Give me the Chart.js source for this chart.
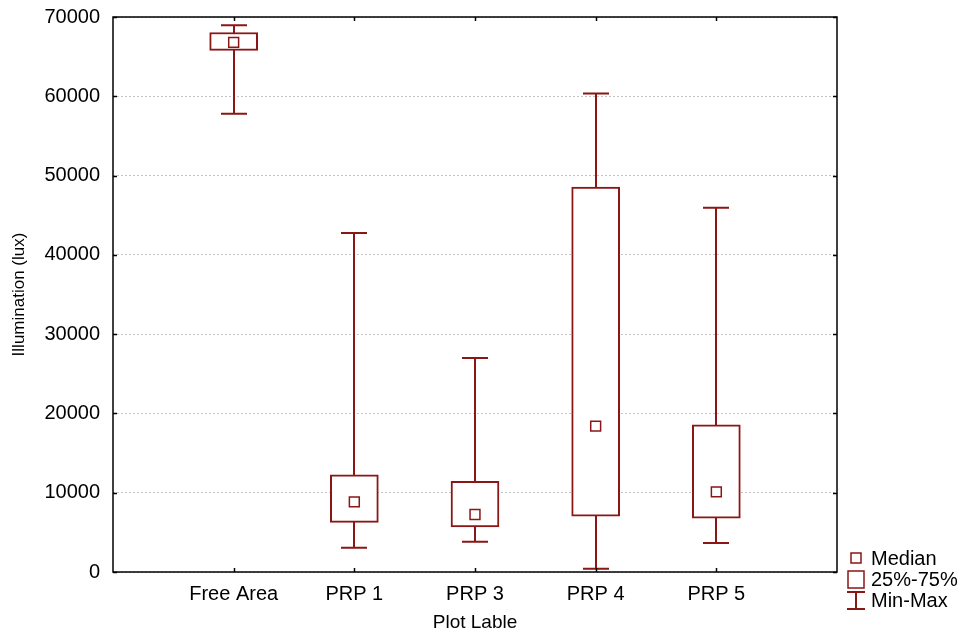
<!DOCTYPE html>
<html>
<head>
<meta charset="utf-8">
<script src="https://cdn.jsdelivr.net/npm/chart.js@4.4.1/dist/chart.umd.min.js"></script>
<style>
  html, body { margin: 0; padding: 0; background: #fff; }
</style>
</head>
<body>
<canvas id="chart" width="963" height="632"></canvas>
<script>
// box plot values
const categories = ['Free Area', 'PRP 1', 'PRP 3', 'PRP 4', 'PRP 5'];
const minVals    = [57800, 3050, 3800, 400, 3650];
const q1Vals     = [65800, 6250, 5700, 7050, 6800];
const medianVals = [66800, 8850, 7250, 18400, 10100];
const q3Vals     = [68050, 12250, 11450, 48550, 18550];
const maxVals    = [68950, 42750, 27000, 60350, 45950];
const yTicks     = [0, 10000, 20000, 30000, 40000, 50000, 60000, 70000];

const RED = '#8b1616';
const FONT = 'Liberation Sans, Arial, sans-serif';

// positions 1..5 on a 0..6 linear axis
const xPos = categories.map((c, i) => i + 1);

// whiskers (min-max) drawn under the boxes
const whiskerPlugin = {
    id: 'whiskers',
    beforeDatasetsDraw(chart) {
        const ctx = chart.ctx;
        const xs = chart.scales.x, ys = chart.scales.y;
        ctx.save();
        ctx.strokeStyle = RED;
        ctx.lineWidth = 2;
        xPos.forEach((p, i) => {
            const x = Math.round(xs.getPixelForValue(p));
            const yMin = ys.getPixelForValue(minVals[i]);
            const yMax = ys.getPixelForValue(maxVals[i]);
            ctx.beginPath();
            ctx.moveTo(x, yMin); ctx.lineTo(x, yMax);
            ctx.moveTo(x - 13, yMin); ctx.lineTo(x + 13, yMin);
            ctx.moveTo(x - 13, yMax); ctx.lineTo(x + 13, yMax);
            ctx.stroke();
        });
        ctx.restore();
    }
};

// frame, inner ticks, legend
const framePlugin = {
    id: 'frame',
    afterDraw(chart) {
        const ctx = chart.ctx;
        const a = chart.chartArea;
        const xs = chart.scales.x, ys = chart.scales.y;
        ctx.save();
        ctx.strokeStyle = '#000';
        ctx.lineWidth = 1.5;
        ctx.strokeRect(a.left, a.top, a.right - a.left, a.bottom - a.top);

        ctx.beginPath();
        yTicks.forEach(v => {
            const y = Math.round(ys.getPixelForValue(v)) + 0.5;
            ctx.moveTo(a.left, y); ctx.lineTo(a.left + 4, y);
            ctx.moveTo(a.right, y); ctx.lineTo(a.right - 4, y);
        });
        xPos.forEach(p => {
            const x = Math.round(xs.getPixelForValue(p)) + 0.5;
            ctx.moveTo(x, a.bottom); ctx.lineTo(x, a.bottom - 4);
            ctx.moveTo(x, a.top); ctx.lineTo(x, a.top + 4);
        });
        ctx.stroke();

        // legend
        const lx = 856;
        ctx.strokeStyle = RED;
        ctx.lineWidth = 1.5;
        ctx.strokeRect(lx - 5, 553, 10, 10);
        ctx.strokeRect(lx - 8, 571, 16, 17);
        ctx.lineWidth = 2;
        ctx.beginPath();
        ctx.moveTo(lx - 9, 592); ctx.lineTo(lx + 9, 592);
        ctx.moveTo(lx, 592); ctx.lineTo(lx, 609);
        ctx.moveTo(lx - 9, 609); ctx.lineTo(lx + 9, 609);
        ctx.stroke();

        ctx.fillStyle = '#000';
        ctx.font = '20px ' + FONT;
        ctx.textBaseline = 'middle';
        ctx.textAlign = 'left';
        ctx.fillText('Median', 871, 559);
        ctx.fillText('25%-75%', 871, 580);
        ctx.fillText('Min-Max', 871, 601);
        ctx.restore();
    }
};

new Chart(document.getElementById('chart'), {
    data: {
        datasets: [
            {
                type: 'line',
                label: 'Median',
                data: xPos.map((p, i) => ({ x: p, y: medianVals[i] })),
                showLine: false,
                pointStyle: 'rect',
                pointRadius: 7,
                pointBackgroundColor: '#fff',
                pointBorderColor: RED,
                pointBorderWidth: 1.5,
                order: 0
            },
            {
                type: 'bar',
                label: '25%-75%',
                data: xPos.map((p, i) => ({ x: p, y: [q1Vals[i], q3Vals[i]] })),
                backgroundColor: '#fff',
                borderColor: RED,
                borderWidth: 2,
                borderSkipped: false,
                barThickness: 48,
                order: 1
            }
        ]
    },
    options: {
        responsive: false,
        animation: false,
        layout: { padding: { left: 0, top: 17, right: 126, bottom: 0 } },
        plugins: {
            legend: { display: false },
            tooltip: { enabled: false }
        },
        scales: {
            x: {
                type: 'linear',
                min: 0,
                max: 6,
                offset: false,
                afterBuildTicks: s => { s.ticks = xPos.map(v => ({ value: v })); },
                afterFit: s => { s.height = 60; s.paddingLeft = 0; s.paddingRight = 0; },
                grid: { display: false, offset: false },
                border: { display: false },
                ticks: {
                    autoSkip: false,
                    maxRotation: 0,
                    padding: 2,
                    color: '#000',
                    font: { family: FONT, size: 20 },
                    callback: v => categories[v - 1]
                },
                title: {
                    display: true,
                    text: 'Plot Lable',
                    color: '#000',
                    font: { family: FONT, size: 19 },
                    padding: { top: 0, bottom: -2 }
                }
            },
            y: {
                min: 0,
                max: 70000,
                afterBuildTicks: s => { s.ticks = yTicks.map(v => ({ value: v })); },
                afterFit: s => { s.width = 113; s.paddingTop = 0; s.paddingBottom = 0; },
                grid: { color: '#c4c4c4', lineWidth: 1, drawTicks: false },
                border: { display: false, dash: [2, 2] },
                ticks: {
                    padding: 13,
                    color: '#000',
                    font: { family: FONT, size: 20 },
                    callback: v => String(v)
                },
                title: {
                    display: true,
                    text: 'Illumination (lux)',
                    color: '#000',
                    font: { family: FONT, size: 17 },
                    padding: { top: 9, bottom: 0 }
                }
            }
        }
    },
    plugins: [whiskerPlugin, framePlugin]
});
</script>
</body>
</html>
